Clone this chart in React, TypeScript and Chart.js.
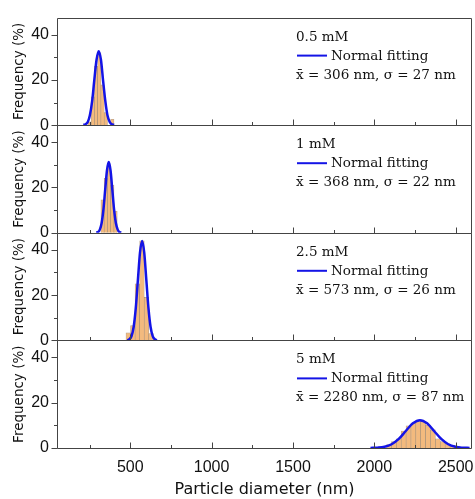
import React, { useEffect, useRef } from "react";
import { Chart, registerables } from "chart.js";

Chart.register(...registerables);

// ---------- data ----------
const panelLabels = ["0.5 mM", "1 mM", "2.5 mM", "5 mM"];
const statLabels = [
  "x̄ = 306 nm, σ = 27 nm",
  "x̄ = 368 nm, σ = 22 nm",
  "x̄ = 573 nm, σ = 26 nm",
  "x̄ = 2280 nm, σ = 87 nm",
];
const fitLegend = "Normal fitting";

// histogram bins (nm) and frequencies (%)
const histX1 = [250, 270, 290, 310, 330, 350, 370, 390];
const histY1 = [1.5, 12.5, 26, 32, 17.8, 5.6, 0, 2.6];
const histX2 = [330, 350, 370, 390, 410];
const histY2 = [14.5, 24, 30, 21, 9.5];
const histX3 = [488, 516, 544, 572, 600, 628];
const histY3 = [3.3, 6.5, 25, 44, 19, 3];
const histX4 = [2090, 2120, 2150, 2180, 2210, 2240, 2270, 2300, 2330, 2360, 2390, 2420, 2450, 2480, 2510];
const histY4 = [1.5, 2.8, 4, 7.5, 9.8, 11, 12, 11.8, 10, 8, 4, 2.8, 1.8, 1.2, 0.6];

// normal fitting curves
const fitX1 = [212, 225, 239, 252, 266, 279, 293, 306, 320, 333, 347, 360, 374, 387, 401];
const fitY1 = [0.1, 0.4, 1.4, 4.4, 10.6, 19.8, 28.9, 32.7, 28.9, 19.8, 10.6, 4.4, 1.4, 0.4, 0.1];
const fitX2 = [291, 302, 313, 324, 335, 346, 357, 368, 379, 390, 401, 412, 423, 434, 445];
const fitY2 = [0.1, 0.3, 1.4, 4.2, 10.1, 18.9, 27.5, 31.2, 27.5, 18.9, 10.1, 4.2, 1.4, 0.3, 0.1];
const fitX3 = [482, 495, 508, 521, 534, 547, 560, 573, 586, 599, 612, 625, 638, 651, 664];
const fitY3 = [0.1, 0.5, 1.9, 5.9, 14.2, 26.6, 38.7, 43.9, 38.7, 26.6, 14.2, 5.9, 1.9, 0.5, 0.1];
const fitX4 = [1976, 2019, 2063, 2106, 2150, 2193, 2237, 2280, 2324, 2367, 2411, 2454, 2498, 2541, 2585];
const fitY4 = [0.03, 0.14, 0.54, 1.66, 4.0, 7.5, 10.9, 12.3, 10.9, 7.5, 4.0, 1.66, 0.54, 0.14, 0.03];

const xTicks = [500, 1000, 1500, 2000, 2500];
const xMinorTicks = [250, 750, 1250, 1750, 2250];
const yTicks = [0, 20, 40];
const yMinorTicks = [10, 30];
const X_MIN = 50;
const X_MAX = 2600;
const Y_MAX = 47.5;

const histXs = [histX1, histX2, histX3, histX4];
const histYs = [histY1, histY2, histY3, histY4];
const fitXs = [fitX1, fitX2, fitX3, fitX4];
const fitYs = [fitY1, fitY2, fitY3, fitY4];

// ---------- styles ----------
const FRAME = "#444444";
const TEXT = "#111111";
const BLUE = "#1414e6";
const BAR_FILL = "#F3BA7E";
const BAR_EDGE = "rgba(120,95,70,0.6)";
const TICK_FONT = "Liberation Sans";
const TITLE_FONT = "DejaVu Sans";
const SERIF = "DejaVu Serif";

const framePlugin = {
  id: "panelFrames",
  afterDraw(chart: any) {
    const ctx = chart.ctx;
    const ca = chart.chartArea;
    const L = Math.round(ca.left) + 0.5;
    const R = Math.round(ca.right) - 0.5;
    ctx.save();
    for (let i = 0; i < 4; i++) {
      const ys = chart.scales["y" + i];
      const xs = chart.scales["x" + i];
      const T = Math.round(ys.top) + 0.5;
      const B = Math.round(ys.bottom) + 0.5;
      ctx.strokeStyle = FRAME;
      ctx.lineWidth = 1;
      ctx.beginPath();
      ctx.rect(L, T, R - L, B - T);
      ctx.stroke();
      // x ticks (inward)
      ctx.beginPath();
      for (const v of xTicks) {
        const px = Math.round(xs.getPixelForValue(v)) + 0.5;
        ctx.moveTo(px, B);
        ctx.lineTo(px, B - 6);
      }
      for (const v of xMinorTicks) {
        const px = Math.round(xs.getPixelForValue(v)) + 0.5;
        ctx.moveTo(px, B);
        ctx.lineTo(px, B - 3.5);
      }
      // y ticks (outward)
      for (const v of yTicks) {
        const py = Math.round(ys.getPixelForValue(v)) + 0.5;
        ctx.moveTo(L, py);
        ctx.lineTo(L - 6, py);
      }
      for (const v of yMinorTicks) {
        const py = Math.round(ys.getPixelForValue(v)) + 0.5;
        ctx.moveTo(L, py);
        ctx.lineTo(L - 3.5, py);
      }
      ctx.stroke();

      // legend block
      const tx = ca.left + 239;
      ctx.fillStyle = TEXT;
      ctx.font = `13.5px "${SERIF}"`;
      ctx.textAlign = "left";
      ctx.textBaseline = "alphabetic";
      ctx.fillText(panelLabels[i], tx, ys.top + 23);
      ctx.strokeStyle = BLUE;
      ctx.lineWidth = 2;
      ctx.beginPath();
      ctx.moveTo(tx + 1, ys.top + 38);
      ctx.lineTo(tx + 31, ys.top + 38);
      ctx.stroke();
      ctx.fillText(fitLegend, tx + 35, ys.top + 42);
      ctx.fillText(statLabels[i], tx, ys.top + 61);
    }
    ctx.restore();
  },
};

function hiddenX() {
  return {
    type: "linear",
    position: "bottom",
    display: false,
    offset: false,
    min: X_MIN,
    max: X_MAX,
  };
}

export default function App() {
  const ref = useRef<HTMLCanvasElement | null>(null);

  useEffect(() => {
    if (!ref.current) return;
    const datasets: any[] = [];
    for (let i = 0; i < 4; i++) {
      datasets.push({
        type: "line",
        label: "fit" + i,
        data: fitXs[i].map((x, k) => ({ x, y: fitYs[i][k] })),
        xAxisID: "xl" + i,
        yAxisID: "y" + i,
        borderColor: BLUE,
        borderWidth: 2.5,
        pointRadius: 0,
        cubicInterpolationMode: "monotone",
        order: 0,
      });
      datasets.push({
        type: "bar",
        label: "hist" + i,
        data: histXs[i].map((x, k) => ({ x, y: histYs[i][k] })),
        xAxisID: "x" + i,
        yAxisID: "y" + i,
        backgroundColor: BAR_FILL,
        borderColor: BAR_EDGE,
        borderWidth: 0.6,
        barPercentage: 1,
        categoryPercentage: 1,
        grouped: false,
        order: 1,
      });
    }

    const scales: any = {};
    for (let i = 0; i < 4; i++) {
      const visible = i === 3;
      scales["x" + i] = {
        type: "linear",
        position: "bottom",
        display: visible,
        offset: false,
        min: X_MIN,
        max: X_MAX,
        afterBuildTicks: (s: any) => {
          s.ticks = xTicks.map((v) => ({ value: v }));
        },
        afterFit: (s: any) => {
          if (visible) s.height = 51;
          s.paddingLeft = 0;
          s.paddingRight = 0;
        },
        grid: { display: false, drawTicks: false, offset: false },
        border: { display: false },
        ticks: {
          padding: 10,
          maxRotation: 0,
          autoSkip: false,
          color: TEXT,
          font: { family: TICK_FONT, size: 16 },
          callback: (v: any) => String(v),
        },
        title: {
          display: visible,
          text: "Particle diameter (nm)",
          color: TEXT,
          font: { family: TITLE_FONT, size: 16 },
          padding: { top: 6, bottom: 0 },
        },
      };
      scales["xl" + i] = hiddenX();
    }
    // define bottom panel first so the top panel is placed at the top
    for (let i = 3; i >= 0; i--) {
      scales["y" + i] = {
        type: "linear",
        position: "left",
        stack: "panels",
        stackWeight: 1,
        min: 0,
        max: Y_MAX,
        afterBuildTicks: (s: any) => {
          s.ticks = yTicks.map((v) => ({ value: v }));
        },
        afterFit: (s: any) => {
          s.width = 57;
        },
        grid: { display: false, drawTicks: false },
        border: { display: false },
        ticks: {
          padding: 8,
          color: TEXT,
          font: { family: TICK_FONT, size: 16 },
          callback: (v: any) => String(v),
        },
        title: {
          display: true,
          text: "Frequency (%)",
          color: TEXT,
          font: { family: TITLE_FONT, size: 13.5 },
          padding: { top: 11, bottom: 0 },
        },
      };
    }

    const chart = new Chart(ref.current, {
      type: "bar",
      data: { datasets },
      options: {
        responsive: false,
        animation: false,
        devicePixelRatio: 1,
        layout: { padding: { left: 0, top: 12, right: 3, bottom: 0 } },
        plugins: { legend: { display: false }, tooltip: { enabled: false } },
        scales,
      },
      plugins: [framePlugin],
    } as any);
    return () => chart.destroy();
  }, []);

  return (
    <div style={{ position: "absolute", left: 0, top: 0, width: 475, height: 499, background: "#fff" }}>
      <canvas ref={ref} width={475} height={499} />
    </div>
  );
}
